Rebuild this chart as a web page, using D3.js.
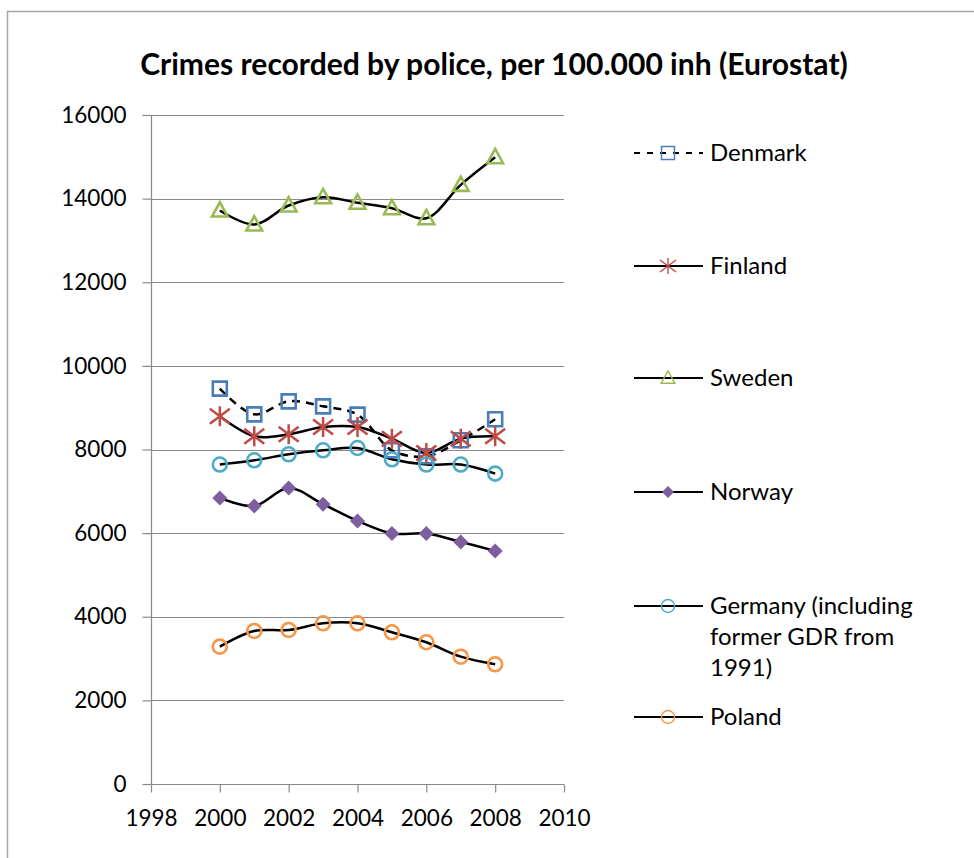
<!DOCTYPE html>
<html><head><meta charset="utf-8">
<script src="https://cdn.jsdelivr.net/npm/d3@7"></script>
<style>body{margin:0;background:#fff}svg{display:block}</style>
</head><body>
<script>
const years = [2000,2001,2002,2003,2004,2005,2006,2007,2008];
const denmark = [9455,8841,9152,9032,8834,7981,7838,8220,8722];
const finland = [8793,8315,8363,8538,8538,8260,7917,8260,8315];
const sweden  = [13716,13381,13835,14034,13900,13771,13532,14330,14990];
const norway  = [6841,6650,7080,6691,6292,5991,5991,5790,5575];
const germany = [7640,7742,7885,7981,8036,7766,7640,7640,7424];
const poland  = [3285,3660,3684,3844,3844,3629,3390,3045,2863];
const yTicks = [0,2000,4000,6000,8000,10000,12000,14000,16000];
const xTicks = [1998,2000,2002,2004,2006,2008,2010];
const title = "Crimes recorded by police, per 100.000 inh (Eurostat)";

const series = [
  {name:["Denmark"], values:denmark, marker:"square", color:"#4A7EBB", dash:"8,6"},
  {name:["Finland"], values:finland, marker:"star", color:"#BE4B48"},
  {name:["Sweden"], values:sweden, marker:"triangle", color:"#98B954"},
  {name:["Norway"], values:norway, marker:"diamond", color:"#7D5FA0"},
  {name:["Germany (including","former GDR from","1991)"], values:germany, marker:"circle", color:"#4BACC6"},
  {name:["Poland"], values:poland, marker:"circle", color:"#F79646"}
];
const FONT = "Lato, 'Open Sans', sans-serif";
const W=974,H=858;
const svg = d3.select("body").append("svg").attr("width",W).attr("height",H);
svg.append("rect").attr("x",7.5).attr("y",11.5).attr("width",W+10).attr("height",H+10)
  .attr("fill","#fff").attr("stroke","#A6A6A6").attr("stroke-width",1.5);

const x = d3.scaleLinear().domain([1998,2010]).range([151,564]);
const y = d3.scaleLinear().domain([0,16000]).range([784,115]);

// gridlines
svg.append("g").selectAll("line").data(yTicks.filter(d=>d>0)).join("line")
  .attr("x1",x(1998)).attr("x2",x(2010)).attr("y1",d=>Math.round(y(d))+0.5).attr("y2",d=>Math.round(y(d))+0.5)
  .attr("stroke","#898989").attr("stroke-width",1);

const yAxis = svg.append("g").attr("transform",`translate(${x(1998)+0.5},0)`)
  .call(d3.axisLeft(y).tickValues(yTicks).tickSize(9).tickPadding(16).tickFormat(d3.format("d")));
const xAxis = svg.append("g").attr("transform",`translate(0,${Math.round(y(0))+0.5})`)
  .call(d3.axisBottom(x).tickValues(xTicks).tickSize(8).tickPadding(18).tickFormat(d3.format("d")));
[yAxis,xAxis].forEach(a=>{
  a.selectAll("path,line").attr("stroke","#898989").attr("stroke-width",1.2);
  a.selectAll("text").attr("font-family",FONT).attr("font-size",22.5).attr("fill","#000");
});
xAxis.select(".domain").attr("d",`M${x(1998)},0H${x(2010)}`);
yAxis.select(".domain").attr("d",`M0,${y(16000)}V${y(0)}`);

function markerPath(type, s){
  const h=s/2;
  switch(type){
    case "square": return `M${-h},${-h}H${h}V${h}H${-h}Z`;
    case "triangle": return `M0,${-h*1.1}L${h*1.05},${h*0.8}L${-h*1.05},${h*0.8}Z`;
    case "diamond": return `M0,${-h}L${h},0L0,${h}L${-h},0Z`;
    case "star": return `M0,${-h}V${h}M${-h},${-h*0.75}L${h},${h*0.75}M${-h},${h*0.75}L${h},${-h*0.75}`;
  }
}
function drawMarker(g, type, color, s, sw){
  if(type==="circle"){
    g.append("circle").attr("r",s/2).attr("fill","none").attr("stroke",color).attr("stroke-width",sw);
    return;
  }
  const p = g.append("path").attr("d",markerPath(type,s));
  if(type==="diamond") p.attr("fill",color).attr("stroke","none");
  else p.attr("fill","none").attr("stroke",color).attr("stroke-width",sw);
}

const line = d3.line().x((d,i)=>x(years[i])).y(d=>y(d)).curve(d3.curveCatmullRom.alpha(0.5));
const plot = svg.append("g");
series.forEach(s=>{
  plot.append("path").attr("d",line(s.values)).attr("fill","none").attr("stroke","#000")
    .attr("stroke-width",2.5).attr("stroke-dasharray",s.dash||null);
});
series.forEach(s=>{
  const size = {square:14,star:20,triangle:15,diamond:15,circle:14}[s.marker];
  const sw = s.marker==="star"?2.5:2.6;
  s.values.forEach((v,i)=>{
    const g = plot.append("g").attr("transform",`translate(${x(years[i])},${y(v)})`);
    drawMarker(g,s.marker,s.color,size,sw);
  });
});

// legend
const legY = [153,266,378,492,606,717];
const leg = svg.append("g");
series.forEach((s,k)=>{
  const g = leg.append("g").attr("transform",`translate(0,${legY[k]})`);
  g.append("line").attr("x1",634).attr("x2",703).attr("y1",0).attr("y2",0)
    .attr("stroke","#000").attr("stroke-width",2).attr("stroke-dasharray",s.dash?"6,7":null);
  const size = {square:13,star:16,triangle:13,diamond:12,circle:13}[s.marker];
  const mg = g.append("g").attr("transform","translate(668,0)");
  drawMarker(mg,s.marker,s.color,size,1.4);
  s.name.forEach((t,j)=>{
    g.append("text").attr("x",710).attr("y",j*31).attr("dy","0.35em")
      .attr("font-family",FONT).attr("font-size",24).attr("fill","#000").text(t);
  });
});

// title
const tt = svg.append("text").attr("x",494).attr("y",75).attr("text-anchor","middle")
  .attr("font-family",FONT).attr("font-weight","bold").attr("font-size",25).attr("fill","#000").text(title);
const tw = tt.node().getComputedTextLength();
tt.attr("font-size", 25*708/tw);
</script>
</body></html>
